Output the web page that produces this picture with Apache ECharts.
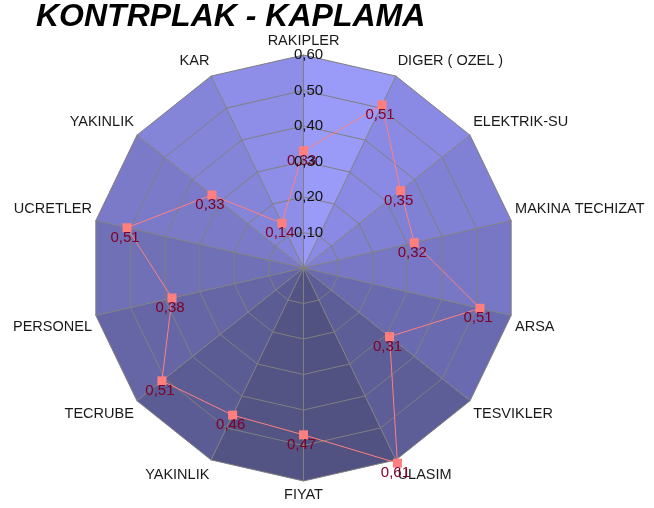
<!DOCTYPE html>
<html>
<head>
<meta charset="utf-8">
<script src="https://cdn.jsdelivr.net/npm/echarts@6/dist/echarts.min.js"></script>
<style>
  html, body { margin: 0; padding: 0; background: #ffffff; }
  #chart { width: 654px; height: 508px; }
</style>
</head>
<body>
<div id="chart"></div>
<script>
// ---- data (clockwise from top) ----
const TITLE = 'KONTRPLAK - KAPLAMA';
const categories = ['RAKIPLER', 'DIGER ( OZEL )', 'ELEKTRIK-SU', 'MAKINA TECHIZAT', 'ARSA', 'TESVIKLER', 'ULASIM', 'FIYAT', 'YAKINLIK', 'TECRUBE', 'PERSONEL', 'UCRETLER', 'YAKINLIK', 'KAR'];
const values = [0.33, 0.51, 0.35, 0.32, 0.51, 0.31, 0.61, 0.47, 0.46, 0.51, 0.38, 0.51, 0.33, 0.14];
const AXIS_MIN = 0;
const AXIS_MAX = 0.6;
const AXIS_STEP = 0.1;

// ---- styles ----
// sector shades, counter-clockwise from top (sector k between indicator k and k+1)
const sectorColors = ['#8e8ee8', '#8484d8', '#7a7ac8', '#7070b6', '#6666a6', '#5c5c94', '#535384',
                      '#525282', '#5d5d98', '#6a6ab0', '#7777c6', '#8080d4', '#8a8ae4', '#9a9af8'];
const FONT = 'Liberation Sans, Arial, sans-serif';
const fmt = v => v.toFixed(2).replace('.', ',');

// ECharts radar places indicators counter-clockwise: reorder
const ccw = arr => [arr[0]].concat(arr.slice(1).reverse());
const catCCW = ccw(categories);
const valCCW = ccw(values);
const N = catCCW.length;

const indicator = catCCW.map((name, i) => ({ name: name, min: AXIS_MIN, max: AXIS_MAX, idx: i }));

const sectorSeries = sectorColors.map((c, k) => ({
  type: 'radar',
  z: 1,
  silent: true,
  symbol: 'none',
  lineStyle: { width: 0, opacity: 0 },
  areaStyle: { color: c, opacity: 1 },
  data: [{ value: catCCW.map((_, i) => (i === k || i === (k + 1) % N) ? AXIS_MAX : AXIS_MIN) }]
}));

const chart = echarts.init(document.getElementById('chart'), null, { renderer: 'canvas' });
chart.setOption({
  animation: false,
  backgroundColor: '#ffffff',
  title: {
    text: TITLE,
    left: 36, top: 1, padding: 0,
    textStyle: { fontFamily: FONT, fontSize: 32, fontWeight: 'bold', fontStyle: 'italic', color: '#000000' }
  },
  radar: {
    center: [303.5, 268],
    radius: 213,
    startAngle: 90,
    shape: 'polygon',
    splitNumber: 6,
    z: 2,
    indicator: indicator,
    nameGap: 4,
    axisName: {
      color: '#1a1a1a', fontFamily: FONT, fontSize: 14.5,
      formatter: function (name, ind) {
        const i = (ind && ind.idx != null) ? ind.idx : 0;
        const s = Math.sin(Math.PI / 2 + i * 2 * Math.PI / N);
        if (s > 0.99) return '{t|' + name + '}';
        if (s < -0.99) return '{b|' + name + '}';
        return s > 0 ? '{u|' + name + '}' : '{d|' + name + '}';
      },
      rich: {
        t: { fontFamily: FONT, fontSize: 14.5, color: '#1a1a1a', padding: [0, 0, 3, 0] },
        b: { fontFamily: FONT, fontSize: 14.5, color: '#1a1a1a', padding: [2, 0, 0, 0] },
        u: { fontFamily: FONT, fontSize: 14.5, color: '#1a1a1a', padding: [0, 0, 22, 0] },
        d: { fontFamily: FONT, fontSize: 14.5, color: '#1a1a1a', padding: [22, 0, 0, 0] }
      }
    },
    axisLine: { lineStyle: { color: '#7f7f7f', width: 1 } },
    splitLine: { lineStyle: { color: '#7f7f7f', width: 1 } },
    splitArea: { show: false }
  },
  polar: { center: [303.5, 268], radius: 213 },
  angleAxis: { show: false, startAngle: 90, min: 0, max: 360 },
  radiusAxis: {
    type: 'value', min: AXIS_MIN, max: AXIS_MAX, interval: AXIS_STEP, z: 10,
    axisLine: { show: false }, axisTick: { show: false }, splitLine: { show: false },
    axisLabel: {
      showMinLabel: false, margin: 0, rotate: 0,
      align: 'center', verticalAlign: 'middle', padding: [0, 0, 0, 10],
      color: '#111111', fontFamily: FONT, fontSize: 15,
      formatter: v => fmt(v)
    }
  },
  series: sectorSeries.concat([{
    type: 'radar',
    z: 3,
    symbol: 'rect',
    symbolSize: 9,
    itemStyle: { color: '#ff7f7f' },
    lineStyle: { color: '#ff8080', width: 1 },
    label: {
      show: true, position: 'bottom', distance: -2, offset: [-2, 0],
      color: '#800028', fontFamily: FONT, fontSize: 15,
      formatter: p => fmt(p.value)
    },
    data: [{ value: valCCW }]
  }])
});
</script>
</body>
</html>
